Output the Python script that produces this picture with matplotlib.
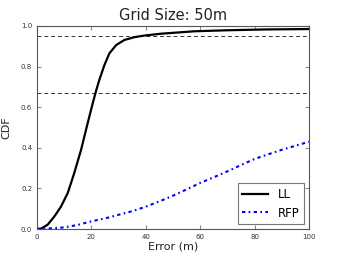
import numpy as np
import matplotlib
matplotlib.use('Agg')
import matplotlib.pyplot as plt

# values
err_ll = [0, 1.5, 3.9, 6.4, 8.8, 11.3, 13.7, 16.2, 18.6, 20.5, 21.7, 22.9, 24.8, 26.6, 29.1, 32.1, 35.8, 39.5, 45.6, 57.9, 70, 84, 100]
cdf_ll = [0, 0.002, 0.021, 0.062, 0.11, 0.177, 0.276, 0.39, 0.52, 0.62, 0.68, 0.734, 0.808, 0.865, 0.906, 0.931, 0.945, 0.953, 0.962, 0.974, 0.979, 0.983, 0.985]

err_rfp = [0, 5, 10, 15, 20, 25, 30, 35, 40, 45, 50, 55, 60, 65, 70, 75, 80, 85, 90, 95, 100]
cdf_rfp = [0, 0.003, 0.008, 0.02, 0.038, 0.052, 0.07, 0.088, 0.11, 0.136, 0.164, 0.195, 0.227, 0.255, 0.284, 0.315, 0.345, 0.368, 0.39, 0.41, 0.43]

hlines = [0.95, 0.67]

fig = plt.figure(figsize=(3.38, 2.63), dpi=100)
ax = fig.add_axes([37/338, 1-229/263, 272/338, 203/263])

for y in hlines:
    ax.axhline(y, color='#333333', linestyle='--', linewidth=0.7, dashes=(4, 3))
ax.plot(err_ll, cdf_ll, color='k', linewidth=1.6, label='LL')
ax.plot(err_rfp, cdf_rfp, color='b', linestyle='-.', linewidth=1.5,
        dashes=(1.6, 1.6, 0.8, 1.6), label='RFP')

ax.set_xlim(0, 100)
ax.set_ylim(0, 1)
ax.set_xticks(np.arange(0, 101, 20))
ax.set_yticks(np.arange(0, 1.01, 0.2))
ax.tick_params(direction='in', top=True, right=True, labelsize=5, length=3, color='#888888', labelcolor='#333333')
for sp in ax.spines.values():
    sp.set_color('#555555')
    sp.set_linewidth(0.8)

ax.set_xlabel('Error (m)', fontsize=8, labelpad=1, color='#222222')
ax.set_ylabel('CDF', fontsize=8, labelpad=7, color='#222222')
ax.set_title('Grid Size: 50m', fontsize=10.5, pad=4, color='#222222')

leg = ax.legend(loc='lower right', fontsize=8.5, fancybox=False, edgecolor='#555555', handlelength=2.2, borderaxespad=0.4)
leg.get_frame().set_linewidth(0.8)

fig.savefig('out.png', dpi=100)
